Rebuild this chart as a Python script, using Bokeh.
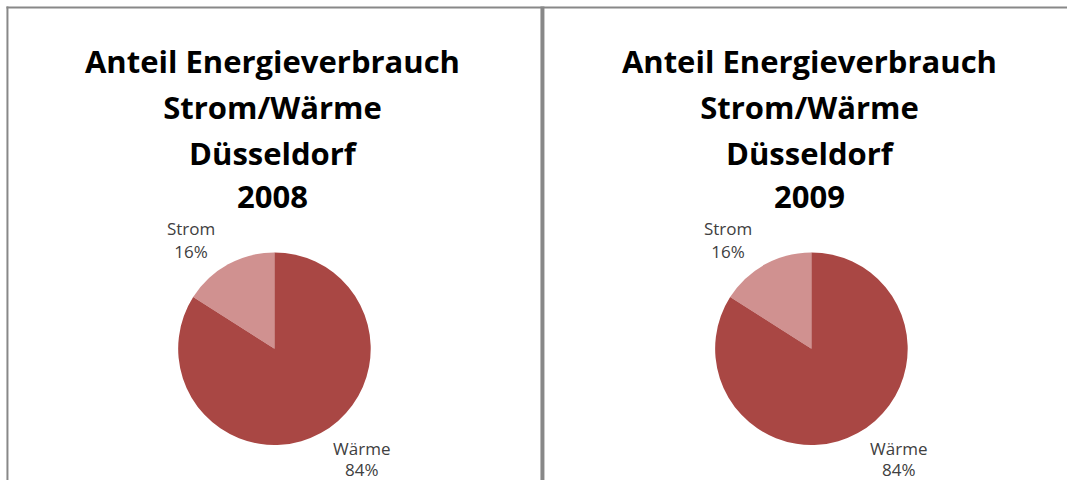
from bokeh.plotting import figure
from bokeh.models import Range1d, ColumnDataSource
from bokeh.core.properties import value
from bokeh.embed import file_html
from bokeh.resources import INLINE
import math

# ---- data ----
years = ["2008", "2009"]
categories = ["Strom", "Wärme"]
shares_2008 = [16, 84]
shares_2009 = [16, 84]
title_lines = ["Anteil Energieverbrauch", "Strom/Wärme", "Düsseldorf"]
colors = ["#D09190", "#A94744"]

W, H = 1067, 480
REF_W, REF_H = 1075, 488
p = figure(width=W, height=H, output_backend="svg", toolbar_location=None,
           x_range=Range1d(0, REF_W), y_range=Range1d(0, REF_H),
           min_border=0, outline_line_color=None)
p.axis.visible = False
p.grid.visible = False
p.background_fill_color = "white"
p.border_fill_color = "white"

def Y(ref_y):
    return REF_H - ref_y

# panel borders
p.segment(x0=[7], y0=[Y(6)], x1=[7], y1=[Y(490)], line_color="#888888", line_width=2)
p.segment(x0=[6], y0=[Y(7)], x1=[1080], y1=[Y(7)], line_color="#888888", line_width=2)
p.segment(x0=[546], y0=[Y(6)], x1=[546], y1=[Y(490)], line_color="#888888", line_width=4)

centers = [276, 817]
cy = 354
radius = 97
for cx, year, shares in zip(centers, years, [shares_2008, shares_2009]):
    total = sum(shares)
    starts, ends = [], []
    a = math.pi / 2
    for s in shares:
        starts.append(a)
        a += 2 * math.pi * s / total
        ends.append(a)
    src = ColumnDataSource(dict(start=starts, end=ends, color=colors,
                                x=[cx] * len(shares), y=[Y(cy)] * len(shares)))
    p.wedge(x="x", y="y", radius=radius, start_angle="start", end_angle="end",
            fill_color="color", line_color=None, direction="anticlock", source=src)
    # title
    lines = title_lines + [year]
    baselines = [62, 108, 155, 200]
    p.text(x=[cx - 2] * 4, y=[Y(b) for b in baselines], text=lines,
           text_font=value("Open Sans"), text_font_style="bold",
           text_font_size="31px", text_align="center", text_baseline="alphabetic",
           text_color="#000000")
    # labels
    lbl_x = [cx - 84, cx + 88]
    lbl_y1 = [232, 455]
    lbl_y2 = [255, 477]
    p.text(x=lbl_x, y=[Y(v) for v in lbl_y1], text=categories,
           text_font=value("Open Sans"), text_font_size="17px",
           text_align="center", text_baseline="alphabetic", text_color="#404040")
    p.text(x=lbl_x, y=[Y(v) for v in lbl_y2], text=[f"{s}%" for s in shares],
           text_font=value("Open Sans"), text_font_size="17px",
           text_align="center", text_baseline="alphabetic", text_color="#404040")

open("out.html", "w").write(file_html(p, INLINE))
